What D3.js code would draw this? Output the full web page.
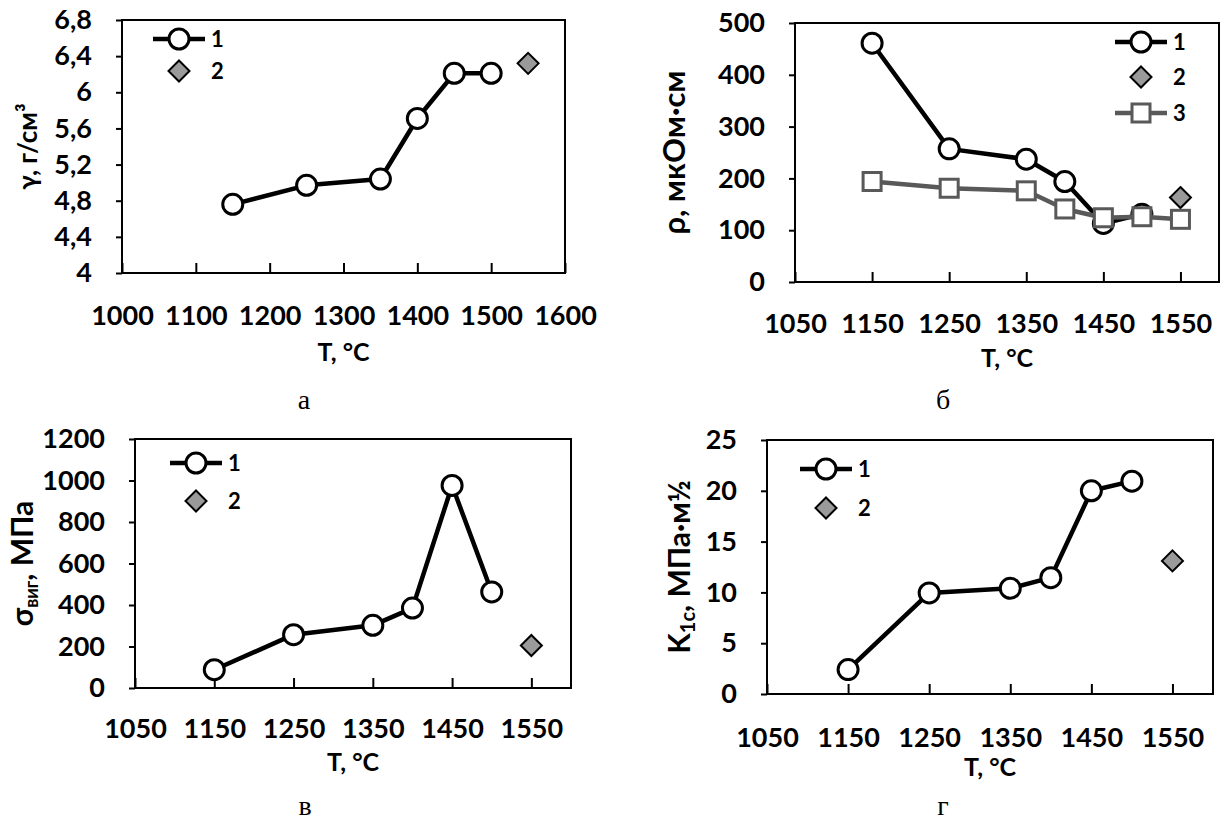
<!DOCTYPE html>
<html>
<head>
<meta charset="utf-8">
<script src="https://cdn.jsdelivr.net/npm/d3@7"></script>
<style>
  html, body { margin: 0; padding: 0; background: #ffffff; }
  svg { display: block; }
  .tick text { font-family: Lato, "Open Sans", "DejaVu Sans", sans-serif; font-weight: 700; font-size: 27px; fill: #000; }
  .title { font-family: Lato, "Open Sans", "DejaVu Sans", sans-serif; font-weight: 700; font-size: 25px; fill: #000; }
  .legend { font-family: Lato, "Open Sans", "DejaVu Sans", sans-serif; font-weight: 700; font-size: 22px; fill: #000; }
  .caption { font-family: "Liberation Serif", "Times New Roman", serif; font-size: 28px; fill: #000; }
</style>
</head>
<body>
<svg id="chart" width="1225" height="820"></svg>
<script>
// Sintering temperatures, °C
const temps = [1150, 1250, 1350, 1400, 1450, 1500];
const tempsRef = [1550];
const temps3 = [1150, 1250, 1350, 1400, 1450, 1500, 1550];

// (а) density, g/cm³
const density1 = [4.76, 4.97, 5.04, 5.71, 6.21, 6.21];
const density2 = [6.32];

// (б) resistivity, µΩ·cm
const resist1 = [461, 257, 237, 194, 113, 131];
const resist2 = [163];
const resist3 = [194, 181, 176, 141, 124, 126, 121];

// (в) bending strength, MPa
const strength1 = [88, 257, 302, 385, 976, 463];
const strength2 = [205];

// (г) fracture toughness, MPa·m½
const tough1 = [2.4, 9.95, 10.4, 11.45, 20.0, 20.95];
const tough2 = [13.1];

// Axis ticks
const xTicksA = [1000, 1100, 1200, 1300, 1400, 1500, 1600];
const xTicksB = [1050, 1150, 1250, 1350, 1450, 1550];
const yTicksA = [4, 4.4, 4.8, 5.2, 5.6, 6, 6.4, 6.8];
const yTicksB = [0, 100, 200, 300, 400, 500];
const yTicksC = [0, 200, 400, 600, 800, 1000, 1200];
const yTicksD = [0, 5, 10, 15, 20, 25];

const svg = d3.select("#chart");
const fmt = d => String(d).replace(".", ",");

function drawPanel(p) {
  const x = d3.scaleLinear().domain(p.xDomain).range([p.L, p.R]);
  const y = d3.scaleLinear().domain(p.yDomain).range([p.B, p.T]);
  const g = svg.append("g");

  // x axis: labels well below, ticks pointing inward
  const gx = g.append("g").attr("transform", `translate(0,${p.B})`)
    .call(d3.axisBottom(x).tickValues(p.xTicks).tickSizeInner(-10).tickSizeOuter(0).tickFormat(d3.format("d")));
  gx.select(".domain").remove();
  gx.selectAll(".tick line").attr("stroke", "#000").attr("stroke-width", 2);
  gx.selectAll(".tick text").attr("dy", null).attr("y", p.xLabelOffset);

  // y axis
  const gy = g.append("g").attr("transform", `translate(${p.L},0)`)
    .call(d3.axisLeft(y).tickValues(p.yTicks).tickSizeInner(6).tickSizeOuter(0).tickPadding(24).tickFormat(fmt));
  gy.select(".domain").remove();
  gy.selectAll(".tick line").attr("stroke", "#000").attr("stroke-width", 2);

  // plot frame
  g.append("rect").attr("x", p.L).attr("y", p.T).attr("width", p.R - p.L).attr("height", p.B - p.T)
    .attr("fill", "none").attr("stroke", "#000").attr("stroke-width", 2);

  // axis titles
  g.append("text").attr("class", "title").attr("x", (p.L + p.R) / 2).attr("y", p.xTitleY)
    .attr("text-anchor", "middle").text("T, °C");
  const yt = g.append("text").attr("class", "title").style("font-size", p.yTitleSize + "px")
    .attr("transform", `translate(${p.yTitleX},${(p.T + p.B) / 2}) rotate(-90)`)
    .attr("text-anchor", "middle").attr("dy", "0.35em");
  p.yTitle(yt);

  // series
  p.series.forEach(s => {
    const pts = s.xs.map((t, i) => [x(t), y(s.ys[i])]);
    if (s.line) {
      g.append("path").attr("d", d3.line()(pts)).attr("fill", "none")
        .attr("stroke", s.color).attr("stroke-width", 4.5).attr("stroke-linejoin", "round");
    }
    drawMarkers(g, s.marker, s.color, pts);
  });

  // legend
  p.legend.forEach(l => {
    if (l.line) {
      g.append("line").attr("x1", l.x - 26).attr("x2", l.x + 26).attr("y1", l.y).attr("y2", l.y)
        .attr("stroke", l.color).attr("stroke-width", 4.5);
    }
    drawMarkers(g, l.marker, l.color, [[l.x, l.y]]);
    g.append("text").attr("class", "legend").attr("x", l.x + 32).attr("y", l.y).attr("dy", "0.36em").text(l.label);
  });

  svg.append("text").attr("class", "caption").attr("x", p.capX).attr("y", p.capY)
    .attr("text-anchor", "middle").text(p.caption);
}

function drawMarkers(g, type, color, pts) {
  pts.forEach(([px, py]) => {
    if (type === "circle") {
      g.append("circle").attr("cx", px).attr("cy", py).attr("r", 10)
        .attr("fill", "#fff").attr("stroke", "#000").attr("stroke-width", 3);
    } else if (type === "square") {
      g.append("rect").attr("x", px - 9).attr("y", py - 9).attr("width", 18).attr("height", 18)
        .attr("fill", "#fff").attr("stroke", color).attr("stroke-width", 3);
    } else if (type === "diamond") {
      const r = 10.5;
      g.append("path").attr("d", `M${px},${py - r}L${px + r},${py}L${px},${py + r}L${px - r},${py}Z`)
        .attr("fill", "#9a9a9a").attr("stroke", "#000").attr("stroke-width", 2);
    }
  });
}

const black = "#000";
const grey = "#595959";

// а — density
drawPanel({
  L: 122, R: 565, T: 20, B: 273,
  xDomain: [1000, 1600], yDomain: [4, 6.8], xTicks: xTicksA, yTicks: yTicksA,
  xLabelOffset: 52, xTitleY: 361, yTitleX: 28, yTitleSize: 26,
  yTitle: t => { t.append("tspan").text("γ, г/см³"); },
  series: [
    { xs: temps, ys: density1, line: true, marker: "circle", color: black },
    { xs: tempsRef, ys: density2, line: false, marker: "diamond", color: black }
  ],
  legend: [
    { x: 179, y: 39, line: true, marker: "circle", color: black, label: "1" },
    { x: 179, y: 71, line: false, marker: "diamond", color: black, label: "2" }
  ],
  caption: "а", capX: 304, capY: 409
});

// б — resistivity
drawPanel({
  L: 795, R: 1219, T: 23, B: 282,
  xDomain: [1050, 1600], yDomain: [0, 500], xTicks: xTicksB, yTicks: yTicksB,
  xLabelOffset: 51, xTitleY: 367, yTitleX: 674, yTitleSize: 31,
  yTitle: t => { t.append("tspan").text("ρ, мкОм·см"); },
  series: [
    { xs: temps, ys: resist1, line: true, marker: "circle", color: black },
    { xs: tempsRef, ys: resist2, line: false, marker: "diamond", color: black },
    { xs: temps3, ys: resist3, line: true, marker: "square", color: grey }
  ],
  legend: [
    { x: 1141, y: 42, line: true, marker: "circle", color: black, label: "1" },
    { x: 1141, y: 77, line: false, marker: "diamond", color: black, label: "2" },
    { x: 1141, y: 113, line: true, marker: "square", color: grey, label: "3" }
  ],
  caption: "б", capX: 943, capY: 409
});

// в — bending strength
drawPanel({
  L: 135, R: 571, T: 439, B: 688,
  xDomain: [1050, 1600], yDomain: [0, 1200], xTicks: xTicksB, yTicks: yTicksC,
  xLabelOffset: 50, xTitleY: 771, yTitleX: 22, yTitleSize: 30,
  yTitle: t => {
    t.append("tspan").text("σ");
    t.append("tspan").attr("font-size", "18px").attr("dy", "5").text("виг");
    t.append("tspan").attr("dy", "-5").text(", МПа");
  },
  series: [
    { xs: temps, ys: strength1, line: true, marker: "circle", color: black },
    { xs: tempsRef, ys: strength2, line: false, marker: "diamond", color: black }
  ],
  legend: [
    { x: 196, y: 463, line: true, marker: "circle", color: black, label: "1" },
    { x: 196, y: 501, line: false, marker: "diamond", color: black, label: "2" }
  ],
  caption: "в", capX: 305, capY: 815
});

// г — fracture toughness
drawPanel({
  L: 767, R: 1213, T: 440, B: 694,
  xDomain: [1050, 1600], yDomain: [0, 25], xTicks: xTicksB, yTicks: yTicksD,
  xLabelOffset: 53, xTitleY: 776, yTitleX: 679, yTitleSize: 30,
  yTitle: t => {
    t.append("tspan").text("K");
    t.append("tspan").attr("font-size", "20px").attr("dy", "5").text("1c");
    t.append("tspan").attr("dy", "-5").text(", МПа·м½");
  },
  series: [
    { xs: temps, ys: tough1, line: true, marker: "circle", color: black },
    { xs: tempsRef, ys: tough2, line: false, marker: "diamond", color: black }
  ],
  legend: [
    { x: 826, y: 469, line: true, marker: "circle", color: black, label: "1" },
    { x: 826, y: 508, line: false, marker: "diamond", color: black, label: "2" }
  ],
  caption: "г", capX: 943, capY: 815
});
</script>
</body>
</html>
